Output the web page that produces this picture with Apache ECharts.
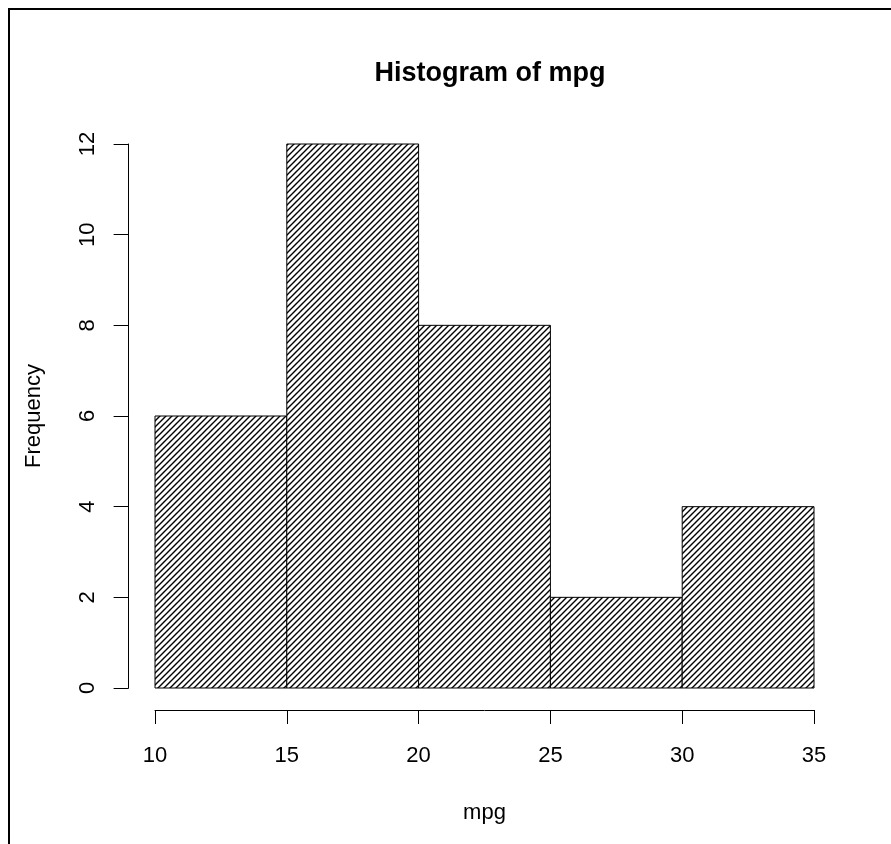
<!DOCTYPE html>
<html>
<head>
<meta charset="utf-8">
<style>
html,body{margin:0;padding:0;background:#fff;}
#chart{width:891px;height:844px;}
</style>
<script src="https://cdn.jsdelivr.net/npm/echarts@6/dist/echarts.min.js"></script>
</head>
<body>
<div id="chart"></div>
<script>
// Histogram of mpg
var binStarts = [10, 15, 20, 25, 30];
var binEnds = [15, 20, 25, 30, 35];
var counts = [6, 12, 8, 2, 4];
var xTicks = [10, 15, 20, 25, 30, 35];
var yTicks = [0, 2, 4, 6, 8, 10, 12];

function makeHatch() {
  var s = 6;
  var c = document.createElement('canvas');
  c.width = s; c.height = s;
  var ctx = c.getContext('2d');
  ctx.fillStyle = '#fff';
  ctx.fillRect(0, 0, s, s);
  ctx.strokeStyle = '#000';
  ctx.lineWidth = 1.4;
  ctx.beginPath();
  ctx.moveTo(0, s); ctx.lineTo(s, 0);
  ctx.moveTo(-1, 1); ctx.lineTo(1, -1);
  ctx.moveTo(s - 1, s + 1); ctx.lineTo(s + 1, s - 1);
  ctx.stroke();
  return c;
}
var hatch = makeHatch();

var data = binStarts.map(function (s, i) { return [s, binEnds[i], counts[i]]; });

var chart = echarts.init(document.getElementById('chart'), null, {renderer: 'canvas'});
var font = 'Liberation Sans, Arial, Helvetica, sans-serif';
chart.setOption({
  animation: false,
  backgroundColor: '#fff',
  title: {
    text: 'Histogram of mpg',
    left: 485, top: 55,
    textAlign: 'center',
    textStyle: {fontFamily: font, fontSize: 27, fontWeight: 'bold', color: '#000'}
  },
  grid: {left: 155, right: 77, top: 144, bottom: 156},
  xAxis: {
    type: 'value', min: xTicks[0], max: xTicks[xTicks.length - 1], interval: 5,
    offset: 22,
    name: 'mpg', nameLocation: 'middle', nameGap: 92,
    nameTextStyle: {fontFamily: font, fontSize: 22, color: '#000'},
    axisLine: {show: true, onZero: false, lineStyle: {color: '#000', width: 1}},
    axisTick: {show: true, length: 14, lineStyle: {color: '#000', width: 1}},
    axisLabel: {margin: 35, fontFamily: font, fontSize: 22, color: '#000'},
    splitLine: {show: false}
  },
  yAxis: {
    type: 'value', min: yTicks[0], max: yTicks[yTicks.length - 1], interval: 2,
    offset: 26.4,
    name: 'Frequency', nameLocation: 'middle', nameGap: 84, nameRotate: 90,
    nameTextStyle: {fontFamily: font, fontSize: 22, color: '#000'},
    axisLine: {show: true, onZero: false, lineStyle: {color: '#000', width: 1}},
    axisTick: {show: true, length: 15, lineStyle: {color: '#000', width: 1}},
    axisLabel: {margin: 30, rotate: 90, fontFamily: font, fontSize: 22, color: '#000'},
    splitLine: {show: false}
  },
  graphic: [{
    type: 'rect', silent: true,
    shape: {x: 9, y: 9, width: 1000, height: 1000},
    style: {fill: 'none', stroke: '#000', lineWidth: 2}
  }],
  series: [{
    type: 'custom',
    data: data,
    encode: {x: [0, 1], y: 2},
    renderItem: function (params, api) {
      var p0 = api.coord([api.value(0), api.value(2)]);
      var p1 = api.coord([api.value(1), 0]);
      return {
        type: 'rect',
        shape: {x: p0[0], y: p0[1], width: p1[0] - p0[0], height: p1[1] - p0[1]},
        style: {fill: {image: hatch, repeat: 'repeat'}, stroke: '#000', lineWidth: 1}
      };
    }
  }]
});
</script>
</body>
</html>
